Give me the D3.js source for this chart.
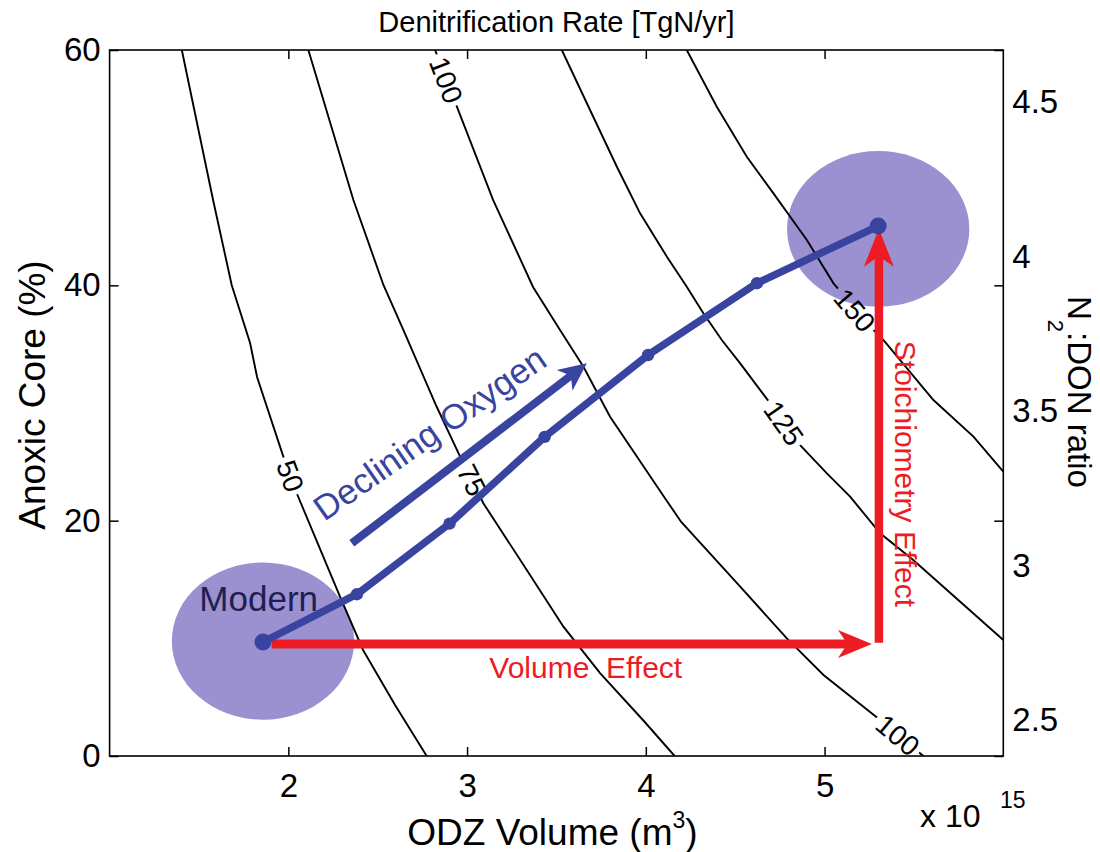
<!DOCTYPE html>
<html>
<head>
<meta charset="utf-8">
<script src="https://cdn.jsdelivr.net/npm/d3@7"></script>
<style>
  body { margin: 0; background: #fff; }
  svg text { font-family: "Liberation Sans", Arial, Helvetica, sans-serif; }
</style>
</head>
<body>
<svg id="chart" width="1100" height="852"></svg>
<script>
// axis ticks
const xTicks = [2, 3, 4, 5];
const yTicks = [0, 20, 40, 60];
const ratioTicks = [2.5, 3, 3.5, 4, 4.5];

// contour lines of denitrification rate, [ODZ volume (x1e15 m3), anoxic core %]
const contour50 = [[1.404,60],[1.579,47.25],[1.683,40.03],[1.786,35.10],[1.825,32.21],[1.972,25.44],[2.047,22.33],[2.289,13.54],[2.418,9.01],[2.597,4.33],[2.774,0]];
const contour75 = [[2.112,60],[2.364,47.25],[2.532,40.03],[2.644,36.20],[2.830,29.68],[2.961,25.44],[3.091,21.48],[3.334,15.81],[3.539,10.99],[3.744,7.05],[3.994,2.89],[4.161,0]];
const contour100 = [[2.821,60],[2.944,55.15],[3.146,47.25],[3.369,39.86],[3.520,36.20],[3.651,33.08],[3.800,28.83],[4.114,21.76],[4.198,19.89],[4.528,14.39],[4.789,10.0],[4.994,6.88],[5.311,3.06],[5.553,0]];
const contour125 = [[3.530,60],[3.688,54.90],[3.838,50.08],[3.968,46.12],[4.118,42.43],[4.229,39.88],[4.322,37.62],[4.425,35.35],[4.528,33.37],[4.696,29.97],[4.854,26.57],[5.013,24.02],[5.143,22.04],[5.311,18.93],[5.496,16.66],[6.0,9.86]];
const contour150 = [[4.229,60],[4.397,55.18],[4.565,50.93],[4.714,47.82],[4.901,43.85],[5.050,40.17],[5.274,36.20],[5.330,35.35],[5.609,30.25],[5.833,27.14],[6.0,24.16]];
const contours = [contour50, contour75, contour100, contour125, contour150];

// contour labels: text, which line, position
const contourLabels = [
  {text: "50",  line: 0, x: 2.012, y: 23.8},
  {text: "75",  line: 1, x: 3.028, y: 23.46},
  {text: "100", line: 2, x: 2.884, y: 57.45},
  {text: "125", line: 3, x: 4.773, y: 28.3},
  {text: "150", line: 4, x: 5.17,  y: 37.9},
  {text: "100", line: 2, x: 5.411, y: 1.78}
];

// declining oxygen trajectory
const oxyPath = [[1.858,9.69],[2.384,13.75],[2.902,19.75],[3.434,27.12],[4.013,34.08],[4.622,40.18],[5.30,45.04]];
// shaded states (center, radius in data units)
const blobs = [{x: 1.858, y: 9.77, rx: 0.51, ry: 6.68}, {x: 5.30, y: 44.79, rx: 0.51, ry: 6.62}];
// arrows
const declineArrow = [[2.355,18.08],[3.670,33.37]];
const volumeArrow = [[1.907,9.52],[5.265,9.52]];
const stoichArrow = [[5.304,9.63],[5.304,44.8]];

const blue = "#3944a0";
const red = "#ed1c24";
const lilac = "#9b91d0";

const svg = d3.select("#chart");
svg.append("rect").attr("width", 1100).attr("height", 852).attr("fill", "#fff");

const x = d3.scaleLinear().domain([1, 6]).range([109.6, 1003.3]);
const y = d3.scaleLinear().domain([0, 60]).range([756, 50]);
const yR = d3.scaleLinear().domain([2.3835, 4.668]).range([756, 50]);

const defs = svg.append("defs");
defs.append("clipPath").attr("id", "plotClip")
    .append("rect")
    .attr("x", x(1)).attr("y", y(60))
    .attr("width", x(6) - x(1)).attr("height", y(0) - y(60));
const mask = defs.append("mask").attr("id", "labelMask")
    .attr("maskUnits", "userSpaceOnUse")
    .attr("x", 0).attr("y", 0).attr("width", 1100).attr("height", 852);
mask.append("rect").attr("width", 1100).attr("height", 852).attr("fill", "#fff");

// shaded ellipses
svg.selectAll("ellipse.blob")
    .data(blobs)
    .join("ellipse")
    .attr("class", "blob")
    .attr("cx", d => x(d.x))
    .attr("cy", d => y(d.y))
    .attr("rx", d => x(d.x + d.rx) - x(d.x))
    .attr("ry", d => y(d.y - d.ry) - y(d.y))
    .attr("fill", lilac);

// contours
const line = d3.line().x(d => x(d[0])).y(d => y(d[1]));
svg.append("g")
    .attr("clip-path", "url(#plotClip)")
    .append("g")
    .attr("mask", "url(#labelMask)")
    .selectAll("path")
    .data(contours)
    .join("path")
    .attr("d", line)
    .attr("fill", "none")
    .attr("stroke", "#000")
    .attr("stroke-width", 1.9);

// angle of contour nearest to a label
function labelAngle(pts, px, py) {
  let best = Infinity, ang = 0;
  for (let i = 0; i < pts.length - 1; i++) {
    const ax = x(pts[i][0]), ay = y(pts[i][1]);
    const bx = x(pts[i + 1][0]), by = y(pts[i + 1][1]);
    const dx = bx - ax, dy = by - ay;
    let t = ((px - ax) * dx + (py - ay) * dy) / (dx * dx + dy * dy);
    t = Math.max(0, Math.min(1, t));
    const ex = ax + t * dx - px, ey = ay + t * dy - py;
    const dist = ex * ex + ey * ey;
    if (dist < best) { best = dist; ang = Math.atan2(dy, dx) * 180 / Math.PI; }
  }
  return ang;
}

const labelG = svg.append("g");
contourLabels.forEach(d => {
  const px = x(d.x), py = y(d.y);
  const ang = labelAngle(contours[d.line], px, py);
  const t = labelG.append("text")
      .attr("transform", `translate(${px},${py}) rotate(${ang})`)
      .attr("text-anchor", "middle")
      .attr("dy", "0.36em")
      .style("font-size", "28px")
      .text(d.text);
  const w = t.node().getComputedTextLength() + 8;
  mask.append("rect")
      .attr("transform", `translate(${px},${py}) rotate(${ang})`)
      .attr("x", -w / 2).attr("y", -11)
      .attr("width", w).attr("height", 22)
      .attr("fill", "#000");
});

// arrow helper
function arrow(pts, color, width, headLen, headHalf) {
  const x0 = x(pts[0][0]), y0 = y(pts[0][1]);
  const x1 = x(pts[1][0]), y1 = y(pts[1][1]);
  const a = Math.atan2(y1 - y0, x1 - x0);
  const c = Math.cos(a), s = Math.sin(a);
  const bx = x1 - headLen * c, by = y1 - headLen * s;
  const nx = x1 - headLen * 0.72 * c, ny = y1 - headLen * 0.72 * s;
  svg.append("line")
      .attr("x1", x0).attr("y1", y0)
      .attr("x2", nx).attr("y2", ny)
      .attr("stroke", color)
      .attr("stroke-width", width);
  svg.append("path")
      .attr("d", `M${x1},${y1}L${bx - headHalf * s},${by + headHalf * c}L${nx},${ny}L${bx + headHalf * s},${by - headHalf * c}Z`)
      .attr("fill", color);
}

arrow(volumeArrow, red, 9, 34, 14);
arrow(stoichArrow, red, 8.5, 38, 15);
arrow(declineArrow, blue, 8, 28, 13);

// oxygen trajectory
svg.append("path")
    .datum(oxyPath)
    .attr("d", line)
    .attr("fill", "none")
    .attr("stroke", blue)
    .attr("stroke-width", 7.5)
    .attr("stroke-linejoin", "round");

svg.selectAll("circle.pt")
    .data(oxyPath)
    .join("circle")
    .attr("class", "pt")
    .attr("cx", d => x(d[0]))
    .attr("cy", d => y(d[1]))
    .attr("r", (d, i) => (i === 0 || i === oxyPath.length - 1) ? 8.5 : 6.2)
    .attr("fill", blue);

// annotations
svg.append("text")
    .attr("x", x(1.834)).attr("y", y(12.35))
    .attr("text-anchor", "middle")
    .style("font-size", "35px")
    .style("fill", "#1f2052")
    .text("Modern");

svg.append("text")
    .attr("transform", `translate(${x(2.83)},${y(26.57)}) rotate(-35)`)
    .attr("text-anchor", "middle")
    .style("font-size", "35px")
    .style("fill", blue)
    .text("Declining Oxygen");

svg.append("text")
    .attr("x", x(3.664)).attr("y", y(6.6))
    .attr("text-anchor", "middle")
    .style("font-size", "30px")
    .style("fill", red)
    .style("white-space", "pre")
    .text("Volume  Effect");

svg.append("text")
    .attr("transform", `translate(${x(5.395)},${y(23.97)}) rotate(90)`)
    .attr("text-anchor", "middle")
    .style("font-size", "30px")
    .style("fill", red)
    .text("Stoichiometry Effect");

// axes (ticks inside the box)
const fontAxis = g => g.attr("font-family", null).attr("font-size", null)
    .call(g => g.select(".domain").remove())
    .call(g => g.selectAll("line").attr("stroke", "#000").attr("stroke-width", 1.5))
    .call(g => g.selectAll("text").style("font-size", "33px").attr("fill", "#000"));

svg.append("g")
    .attr("transform", `translate(0,${y(0)})`)
    .call(d3.axisBottom(x).tickValues(xTicks).tickFormat(d3.format("d")).tickSizeInner(-9).tickSizeOuter(0).tickPadding(18))
    .call(fontAxis);
svg.append("g")
    .attr("transform", `translate(0,${y(60)})`)
    .call(d3.axisTop(x).tickValues(xTicks).tickFormat("").tickSizeInner(-9).tickSizeOuter(0))
    .call(fontAxis);
svg.append("g")
    .attr("transform", `translate(${x(1)},0)`)
    .call(d3.axisLeft(y).tickValues(yTicks).tickFormat(d3.format("d")).tickSizeInner(-9).tickSizeOuter(0).tickPadding(9))
    .call(fontAxis);
svg.append("g")
    .attr("transform", `translate(${x(6)},0)`)
    .call(d3.axisRight(y).tickValues(yTicks).tickFormat("").tickSizeInner(-9).tickSizeOuter(0))
    .call(fontAxis);
svg.append("g")
    .attr("transform", `translate(${x(6)},0)`)
    .call(d3.axisRight(yR).tickValues(ratioTicks).tickFormat(d3.format("~g")).tickSize(0).tickPadding(9))
    .call(fontAxis);

// frame
svg.append("rect")
    .attr("x", x(1)).attr("y", y(60))
    .attr("width", x(6) - x(1)).attr("height", y(0) - y(60))
    .attr("fill", "none")
    .attr("stroke", "#000")
    .attr("stroke-width", 1.6);

// titles
svg.append("text")
    .attr("x", (x(1) + x(6)) / 2).attr("y", 32)
    .attr("text-anchor", "middle")
    .style("font-size", "29px")
    .text("Denitrification Rate [TgN/yr]");

const xl = svg.append("text")
    .attr("x", (x(1) + x(6)) / 2 - 4).attr("y", 845)
    .attr("text-anchor", "middle")
    .style("font-size", "37px");
xl.append("tspan").text("ODZ Volume (m");
xl.append("tspan").attr("dy", -17).style("font-size", "23px").text("3");
xl.append("tspan").attr("dy", 17).text(")");

svg.append("text")
    .attr("x", 920).attr("y", 827)
    .style("font-size", "32px")
    .text("x 10");
svg.append("text")
    .attr("x", 1000).attr("y", 808)
    .style("font-size", "23px")
    .text("15");

svg.append("text")
    .attr("transform", `translate(45,${(y(0) + y(60)) / 2 - 8}) rotate(-90)`)
    .attr("text-anchor", "middle")
    .style("font-size", "37px")
    .text("Anoxic Core (%)");

const rl = svg.append("text")
    .attr("transform", `translate(1068,${(y(0) + y(60)) / 2 - 11}) rotate(90)`)
    .attr("text-anchor", "middle")
    .style("font-size", "33px");
rl.append("tspan").text("N");
rl.append("tspan").attr("dy", 20).style("font-size", "22px").text("2");
rl.append("tspan").attr("dy", -20).text(":DON ratio");
</script>
</body>
</html>
